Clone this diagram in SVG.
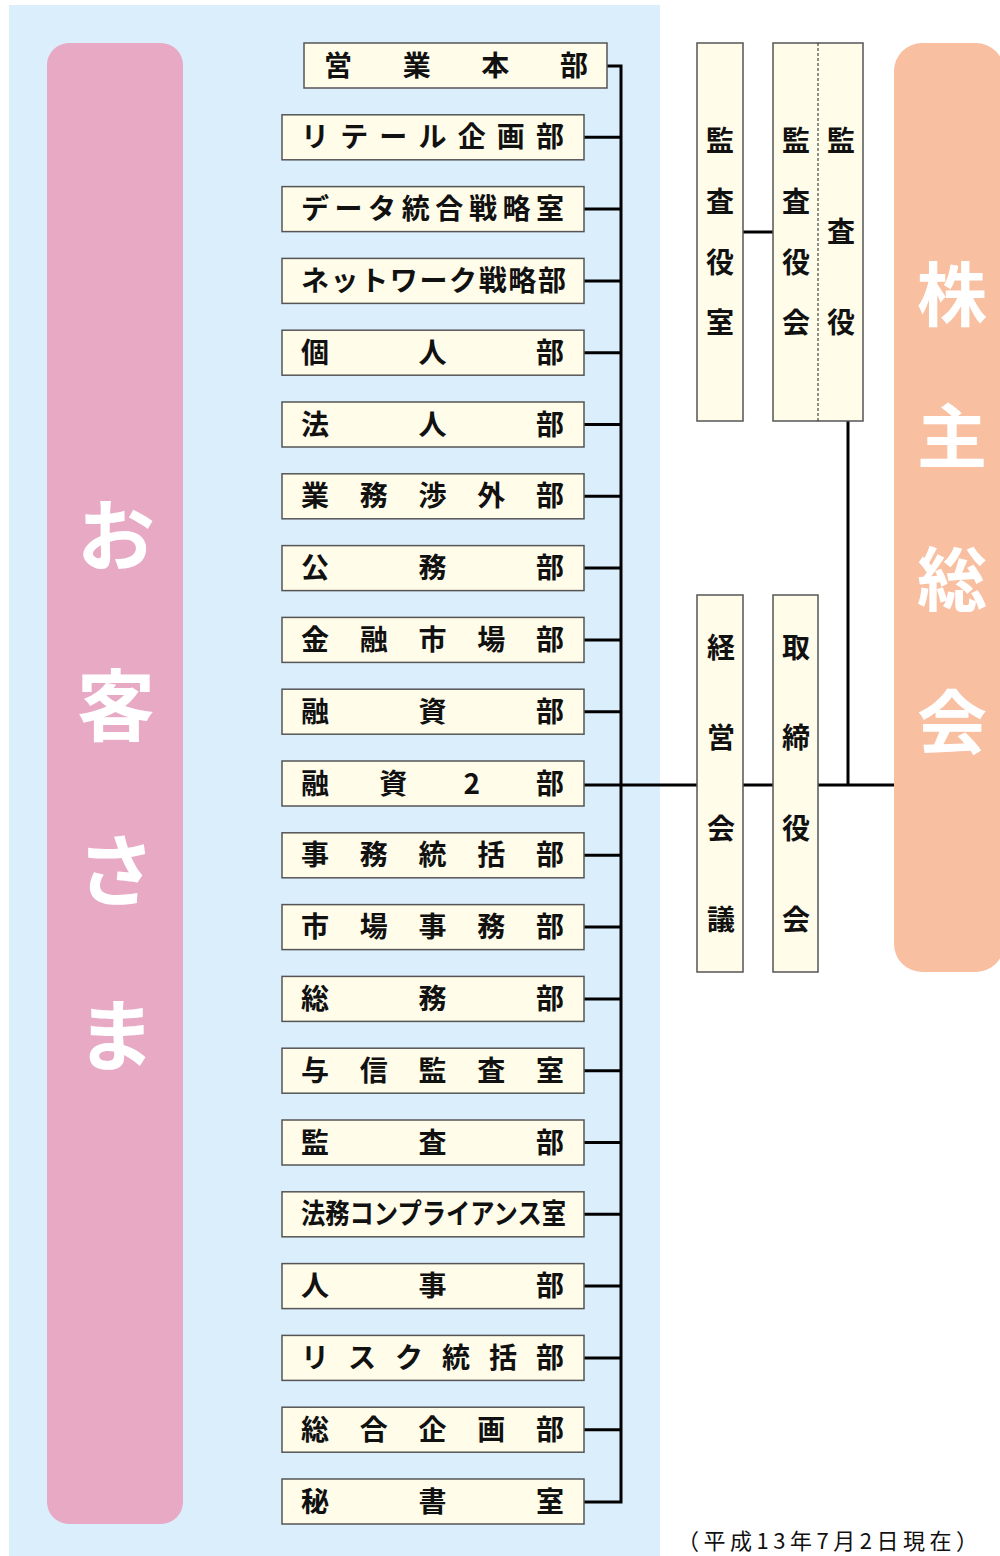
<svg xmlns="http://www.w3.org/2000/svg" width="1000" height="1556" viewBox="0 0 1000 1556">
<style>
.box{fill:#FFFCE9;stroke:#555;stroke-width:1.5}
.t{font-family:"Noto Sans CJK JP","Noto Sans",sans-serif;font-weight:700;font-size:28px;fill:#111;text-anchor:middle}
.tl{font-family:"Noto Sans CJK JP","Noto Sans",sans-serif;font-weight:700;font-size:28px;fill:#111}
.big{font-family:"Noto Sans CJK JP","Noto Sans",sans-serif;font-weight:700;fill:#fff;text-anchor:middle}
.ln{stroke:#000;stroke-width:3;fill:none}
</style>
<rect x="0" y="0" width="1000" height="1556" fill="#fff"/>
<rect x="9" y="5" width="651" height="1551" fill="#DBEEFC"/>
<g id="customer">
<rect x="47" y="43" width="136" height="1481" rx="22" fill="#E7A9C4"/>
<text class="big" font-size="78" x="116" y="565">お</text>
<text class="big" font-size="78" x="116" y="735">客</text>
<text class="big" font-size="78" x="116" y="900">さ</text>
<text class="big" font-size="78" x="116" y="1065">ま</text>
</g>
<g id="connectors">
<polyline class="ln" points="607,66 621,66 621,1502 584,1502"/>
<line class="ln" x1="584" y1="137.3" x2="621" y2="137.3"/>
<line class="ln" x1="584" y1="209.1" x2="621" y2="209.1"/>
<line class="ln" x1="584" y1="280.9" x2="621" y2="280.9"/>
<line class="ln" x1="584" y1="352.7" x2="621" y2="352.7"/>
<line class="ln" x1="584" y1="424.5" x2="621" y2="424.5"/>
<line class="ln" x1="584" y1="496.3" x2="621" y2="496.3"/>
<line class="ln" x1="584" y1="568.1" x2="621" y2="568.1"/>
<line class="ln" x1="584" y1="639.9" x2="621" y2="639.9"/>
<line class="ln" x1="584" y1="711.7" x2="621" y2="711.7"/>
<line class="ln" x1="584" y1="785" x2="895" y2="785"/>
<line class="ln" x1="584" y1="855.3" x2="621" y2="855.3"/>
<line class="ln" x1="584" y1="927.1" x2="621" y2="927.1"/>
<line class="ln" x1="584" y1="998.9" x2="621" y2="998.9"/>
<line class="ln" x1="584" y1="1070.7" x2="621" y2="1070.7"/>
<line class="ln" x1="584" y1="1142.5" x2="621" y2="1142.5"/>
<line class="ln" x1="584" y1="1214.3" x2="621" y2="1214.3"/>
<line class="ln" x1="584" y1="1286.1" x2="621" y2="1286.1"/>
<line class="ln" x1="584" y1="1357.9" x2="621" y2="1357.9"/>
<line class="ln" x1="584" y1="1429.7" x2="621" y2="1429.7"/>
<line class="ln" x1="848" y1="421" x2="848" y2="785"/>
<line class="ln" x1="743" y1="232" x2="773" y2="232"/>
</g>
<g id="n0"><rect class="box" x="304" y="43" width="303" height="45"/><text class="t" x="338 416.7 495.3 574" y="75.5">営業本部</text></g>
<g id="n1"><rect class="box" x="282" y="114.8" width="302" height="45"/><text class="t" x="315 354.2 393.3 432.5 471.7 510.8 550" y="147.3">リテール企画部</text></g>
<g id="n2"><rect class="box" x="282" y="186.6" width="302" height="45"/><text class="t" x="315 348.6 382.1 415.7 449.3 482.9 516.4 550" y="219.1">データ統合戦略室</text></g>
<g id="n3"><rect class="box" x="282" y="258.4" width="302" height="45"/><text class="tl" x="301" y="290.9" textLength="265" lengthAdjust="spacing">ネットワーク戦略部</text></g>
<g id="n4"><rect class="box" x="282" y="330.2" width="302" height="45"/><text class="t" x="315 432.5 550" y="362.7">個人部</text></g>
<g id="n5"><rect class="box" x="282" y="402" width="302" height="45"/><text class="t" x="315 432.5 550" y="434.5">法人部</text></g>
<g id="n6"><rect class="box" x="282" y="473.8" width="302" height="45"/><text class="t" x="315 373.75 432.5 491.25 550" y="506.3">業務渉外部</text></g>
<g id="n7"><rect class="box" x="282" y="545.6" width="302" height="45"/><text class="t" x="315 432.5 550" y="578.1">公務部</text></g>
<g id="n8"><rect class="box" x="282" y="617.4" width="302" height="45"/><text class="t" x="315 373.75 432.5 491.25 550" y="649.9">金融市場部</text></g>
<g id="n9"><rect class="box" x="282" y="689.2" width="302" height="45"/><text class="t" x="315 432.5 550" y="721.7">融資部</text></g>
<g id="n10"><rect class="box" x="282" y="761" width="302" height="45"/><text class="t" x="315 393.3 471.7 550" y="793.5">融資2部</text></g>
<g id="n11"><rect class="box" x="282" y="832.8" width="302" height="45"/><text class="t" x="315 373.75 432.5 491.25 550" y="865.3">事務統括部</text></g>
<g id="n12"><rect class="box" x="282" y="904.6" width="302" height="45"/><text class="t" x="315 373.75 432.5 491.25 550" y="937.1">市場事務部</text></g>
<g id="n13"><rect class="box" x="282" y="976.4" width="302" height="45"/><text class="t" x="315 432.5 550" y="1008.9">総務部</text></g>
<g id="n14"><rect class="box" x="282" y="1048.2" width="302" height="45"/><text class="t" x="315 373.75 432.5 491.25 550" y="1080.7">与信監査室</text></g>
<g id="n15"><rect class="box" x="282" y="1120" width="302" height="45"/><text class="t" x="315 432.5 550" y="1152.5">監査部</text></g>
<g id="n16"><rect class="box" x="282" y="1191.8" width="302" height="45"/><text class="tl" x="301" y="1224.3" textLength="265" lengthAdjust="spacingAndGlyphs">法務コンプライアンス室</text></g>
<g id="n17"><rect class="box" x="282" y="1263.6" width="302" height="45"/><text class="t" x="315 432.5 550" y="1296.1">人事部</text></g>
<g id="n18"><rect class="box" x="282" y="1335.4" width="302" height="45"/><text class="t" x="315 362 409 456 503 550" y="1367.9">リスク統括部</text></g>
<g id="n19"><rect class="box" x="282" y="1407.2" width="302" height="45"/><text class="t" x="315 373.75 432.5 491.25 550" y="1439.7">総合企画部</text></g>
<g id="n20"><rect class="box" x="282" y="1479" width="302" height="45"/><text class="t" x="315 432.5 550" y="1511.5">秘書室</text></g>
<g id="kansayakushitsu"><rect class="box" x="697" y="43" width="46" height="378"/>
<text class="t" x="720" y="151">監</text><text class="t" x="720" y="212">査</text><text class="t" x="720" y="273">役</text><text class="t" x="720" y="333">室</text></g>
<g id="kansayakukai"><rect class="box" x="773" y="43" width="90" height="378"/>
<line x1="818" y1="43" x2="818" y2="421" stroke="#222" stroke-width="1" stroke-dasharray="3,2"/>
<text class="t" x="796" y="151">監</text><text class="t" x="796" y="212">査</text><text class="t" x="796" y="273">役</text><text class="t" x="796" y="333">会</text>
<text class="t" x="841" y="151">監</text><text class="t" x="841" y="242">査</text><text class="t" x="841" y="333">役</text></g>
<g id="keieikaigi"><rect class="box" x="697" y="595" width="46" height="377"/>
<text class="t" x="721" y="658">経</text><text class="t" x="721" y="748">営</text><text class="t" x="721" y="839">会</text><text class="t" x="721" y="930">議</text></g>
<g id="torishimariyakukai"><rect class="box" x="773" y="595" width="45" height="377"/>
<text class="t" x="796" y="658">取</text><text class="t" x="796" y="748">締</text><text class="t" x="796" y="839">役</text><text class="t" x="796" y="930">会</text></g>
<g id="kabunushi">
<rect x="894" y="43" width="110" height="929" rx="28" fill="#F8BFA1"/>
<text class="big" font-size="70" x="952" y="321">株</text>
<text class="big" font-size="70" x="952" y="463">主</text>
<text class="big" font-size="70" x="952" y="606">総</text>
<text class="big" font-size="70" x="952" y="749">会</text>
</g>
<text x="677" y="1549" font-family="Noto Sans CJK JP,Noto Sans,sans-serif" font-size="22" fill="#111" textLength="301" lengthAdjust="spacing">（平成13年7月2日現在）</text>
</svg>
